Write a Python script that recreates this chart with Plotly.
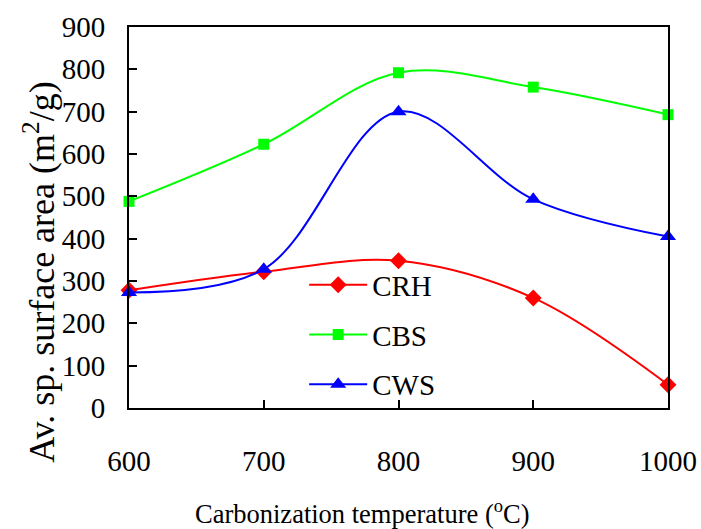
import plotly.graph_objects as go

temps = [600, 700, 800, 900, 1000]
crh = [278, 322, 348, 260, 55]
cbs = [488, 623, 792, 758, 693]
cws = [273, 328, 700, 493, 405]

FONT = "Times New Roman, Liberation Serif, serif"

fig = go.Figure()
series = [
    ("CRH", crh, "#ff0000", "diamond", 13),
    ("CBS", cbs, "#00ff00", "square", 11),
    ("CWS", cws, "#0000ff", "triangle-up", 14),
]
for i, (name, vals, col, sym, sz) in enumerate(series):
    fig.add_trace(go.Scatter(
        x=temps, y=vals, name=name, mode="lines+markers",
        line=dict(color=col, width=2, shape="spline", smoothing=1),
        marker=dict(symbol=sym, size=sz, color=col),
        legendgroup=str(i), cliponaxis=False,
    ))

fig.update_layout(
    width=701, height=529,
    margin=dict(l=129, r=33, t=27, b=121, autoexpand=False),
    paper_bgcolor="white", plot_bgcolor="white",
    font=dict(family=FONT, size=28, color="black"),
    showlegend=True,
    legend=dict(x=0.325, y=0.39, xanchor="left", yanchor="top",
                font=dict(family=FONT, size=29, color="black"), tracegroupgap=9,
                bgcolor="rgba(0,0,0,0)", itemwidth=58),
    xaxis=dict(range=[600, 1000], tickvals=temps, ticks="inside", ticklen=8,
               tickwidth=1.5, tickcolor="black", showline=True, linecolor="black",
               linewidth=2, mirror=True, showgrid=False, zeroline=False,
               automargin=False, ticklabelstandoff=26,
               tickfont=dict(family=FONT, size=29, color="black")),
    yaxis=dict(range=[0, 900], dtick=100, ticks="inside", ticklen=8,
               tickwidth=1.5, tickcolor="black", showline=True, linecolor="black",
               linewidth=2, mirror=True, showgrid=False, zeroline=False,
               automargin=False, ticklabelstandoff=16,
               tickfont=dict(family=FONT, size=29, color="black")),
    annotations=[
        dict(text="Av. sp. surface area (m<sup>2</sup>/g)", textangle=-90,
             xref="paper", yref="paper", x=-0.165, y=0.355,
             xanchor="center", yanchor="middle", showarrow=False,
             font=dict(family=FONT, size=36, color="black")),
        dict(text="Carbonization temperature (<sup>o</sup>C)",
             xref="paper", yref="paper", x=0.433, y=-0.272,
             xanchor="center", yanchor="middle", showarrow=False,
             font=dict(family=FONT, size=26.5, color="black")),
    ],
)

fig.write_html("out.html")
